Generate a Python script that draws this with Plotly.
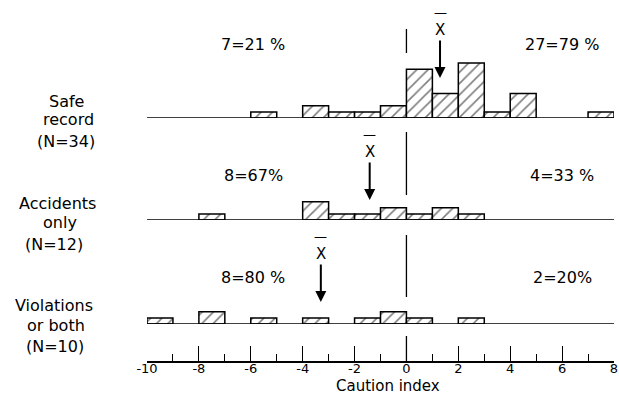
import plotly.graph_objects as go

# ---------------- data ----------------
safe_bins = [-6, -4, -3, -2, -1, 0, 1, 2, 3, 4, 7]
safe_counts = [1, 2, 1, 1, 2, 8, 4, 9, 1, 4, 1]

acc_bins = [-8, -4, -3, -2, -1, 0, 1, 2]
acc_counts = [1, 3, 1, 1, 2, 1, 2, 1]

viol_bins = [-10, -8, -6, -4, -2, -1, 0, 2]
viol_counts = [1, 2, 1, 1, 1, 2, 1, 1]

group_labels = [["Safe", "record", "(N=34)"],
                ["Accidents", "only", "(N=12)"],
                ["Violations", "or both", "(N=10)"]]
left_pct = ["7=21 %", "8=67%", "8=80 %"]
right_pct = ["27=79 %", "4=33 %", "2=20%"]

tick_vals = [-10, -8, -6, -4, -2, 0, 2, 4, 6, 8]
tick_text = ["-10", "-8", "-6", "-4", "-2", "0", "2", "4", "6", "8"]
minor_vals = [-9, -7, -5, -3, -1, 1, 3, 5, 7]
x_title = "Caution index"

# ---------------- layout helpers ----------------
W, H = 619, 417
FONT = "DejaVu Sans"
PPC = 6.1  # pixels per count

def py(p):  # pixel row -> paper fraction
    return 1 - p / H

panels = [
    dict(bins=safe_bins, counts=safe_counts, yname="y", base=118, top=0,
         pct_px=44, tip_px=78, zline_px=[29, 53], lab_x=[66, 68, 66], lab_y=[101, 119, 141]),
    dict(bins=acc_bins, counts=acc_counts, yname="y2", base=220, top=118,
         pct_px=175, tip_px=200, zline_px=[132, 195], lab_x=[57, 60, 54], lab_y=[203, 222, 244]),
    dict(bins=viol_bins, counts=viol_counts, yname="y3", base=324, top=220,
         pct_px=277, tip_px=302, zline_px=[235, 297], lab_x=[54, 56, 55], lab_y=[305, 325, 346]),
]

fig = go.Figure()
annotations = []
shapes = []

L_MARGIN, R_MARGIN = 147, 5
plot_w = W - L_MARGIN - R_MARGIN

def px_to_paperx(p):
    return (p - L_MARGIN) / plot_w

layout_axes = {}
for i, p in enumerate(panels):
    yref = p["yname"]
    base = p["base"]
    to_c = lambda pp, b=base: (b - pp) / PPC   # pixel row -> count units in panel
    rng = (base - p["top"]) / PPC
    axkey = "yaxis" if yref == "y" else "yaxis" + yref[1:]
    layout_axes[axkey] = dict(domain=[py(base), py(p["top"])], range=[0, rng],
                              visible=False, showgrid=False, zeroline=False, fixedrange=True)

    centers = [b + 0.5 for b in p["bins"]]
    # baseline
    fig.add_trace(go.Scatter(x=[-10, 8], y=[0, 0], mode="lines", yaxis=yref,
                             line=dict(color="black", width=1.6), showlegend=False,
                             hoverinfo="skip"))
    # hatched bars
    fig.add_trace(go.Bar(x=centers, y=p["counts"], width=[1] * len(centers), yaxis=yref,
                         marker=dict(color="white",
                                     line=dict(color="black", width=1.5),
                                     pattern=dict(shape="/", size=8, solidity=0.2,
                                                  fgcolor="black", bgcolor="white")),
                         showlegend=False))
    # zero divider line
    fig.add_trace(go.Scatter(x=[0, 0], y=[to_c(v) for v in p["zline_px"]], mode="lines",
                             yaxis=yref, line=dict(color="black", width=1.3),
                             showlegend=False, hoverinfo="skip"))
    # mean with arrow
    n = sum(p["counts"])
    mean = sum(c * k for c, k in zip(centers, p["counts"])) / n
    tip = to_c(p["tip_px"])
    annotations.append(dict(x=mean, y=tip, xref="x", yref=yref, text="X",
                            showarrow=True, ax=0, ay=-48, arrowhead=2, arrowsize=1.1,
                            arrowwidth=2, arrowcolor="black", standoff=0,
                            font=dict(family=FONT, size=15, color="black")))
    annotations.append(dict(x=mean, y=tip, xref="x", yref=yref, text="—",
                            showarrow=False, yshift=66,
                            font=dict(family=FONT, size=13, color="black")))
    # percent labels
    annotations.append(dict(x=-5.9, y=to_c(p["pct_px"]), xref="x", yref=yref,
                            text=left_pct[i], showarrow=False,
                            font=dict(family=FONT, size=16, color="black")))
    annotations.append(dict(x=6.0, y=to_c(p["pct_px"]), xref="x", yref=yref,
                            text=right_pct[i], showarrow=False,
                            font=dict(family=FONT, size=16, color="black")))
    # group labels
    for line, lx, ly in zip(group_labels[i], p["lab_x"], p["lab_y"]):
        annotations.append(dict(x=px_to_paperx(lx), y=py(ly), xref="paper",
                                yref="paper", text=line, showarrow=False,
                                xanchor="center", yanchor="middle",
                                font=dict(family=FONT, size=16, color="black")))

# axis title
annotations.append(dict(x=px_to_paperx(388), y=py(397), xref="paper", yref="paper",
                        text=x_title, showarrow=False,
                        font=dict(family=FONT, size=15, color="black")))

# taller zero tick on the scale
shapes.append(dict(type="line", xref="x", yref="paper", x0=0, x1=0,
                   y0=py(362), y1=py(336), line=dict(color="black", width=1.3)))

fig.update_layout(
    width=W, height=H,
    margin=dict(l=L_MARGIN, r=R_MARGIN, t=0, b=0),
    paper_bgcolor="white", plot_bgcolor="rgba(0,0,0,0)",
    barmode="overlay",
    xaxis=dict(range=[-10, 8], domain=[0, 1], anchor="free", position=py(362),
               showline=True, linecolor="black", linewidth=1.6,
               ticks="inside", ticklen=15, tickwidth=1.3, tickcolor="black",
               tickvals=tick_vals, ticktext=tick_text,
               ticklabelstandoff=-5, ticklabeloverflow="allow",
               tickfont=dict(family=FONT, size=13, color="black"),
               minor=dict(tickvals=minor_vals, ticks="inside", ticklen=7,
                          tickwidth=1.3, tickcolor="black"),
               showgrid=False, zeroline=False),
    annotations=annotations,
    shapes=shapes,
    showlegend=False,
    **layout_axes,
)

# remove the browser's default 8px page margin so the figure sits at the window origin
fig.write_html("out.html",
               config={"displayModeBar": False},
               post_script="document.body.style.margin='0';document.body.style.overflow='hidden';")
